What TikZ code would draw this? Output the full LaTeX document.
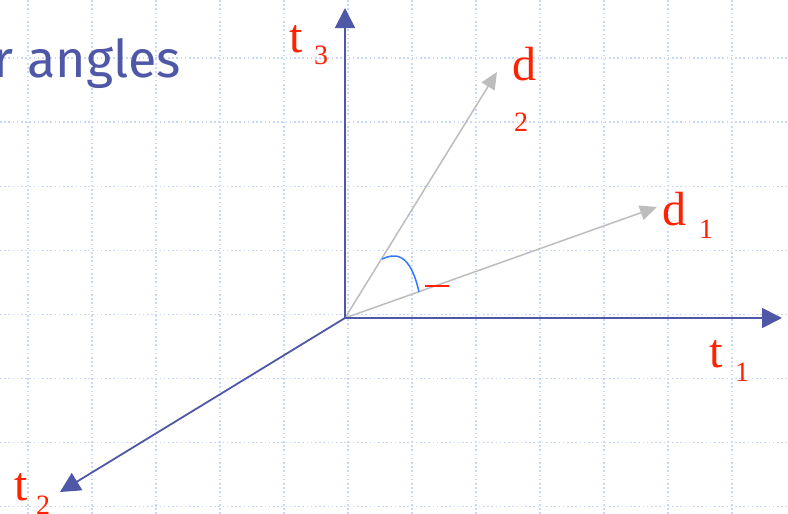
\documentclass[tikz,border=0pt]{standalone}
\usepackage{fontspec}
\setmainfont{Liberation Serif}
\newfontfamily\titlefont{Fira Sans}
\usetikzlibrary{arrows.meta}
\definecolor{axisblue}{HTML}{4F58A6}
\definecolor{gridblue}{HTML}{CAD7F6}
\definecolor{lblred}{HTML}{FF2200}
\definecolor{vecgray}{HTML}{BDBDBD}
\definecolor{arcblue}{HTML}{3377FF}
\tikzset{
  gridline/.style={gridblue, line width=1.3pt, dash pattern=on 1.6pt off 2.6pt},
  axis/.style={axisblue, line width=1.8pt, -{Triangle[length=20pt,width=20pt]}},
  vec/.style={vecgray, line width=1.5pt, -{Triangle[length=17pt,width=15pt]}},
  big/.style={text=lblred, inner sep=0pt, outer sep=0pt, anchor=base west, font=\fontsize{48}{48}\selectfont},
  sub/.style={text=lblred, inner sep=0pt, outer sep=0pt, anchor=base west, font=\fontsize{28}{28}\selectfont},
}
\begin{document}
\begin{tikzpicture}[x=1pt,y=-1pt]
\useasboundingbox (0,0) rectangle (788,514);
\clip (0,0) rectangle (788,514);
\fill[white] (0,0) rectangle (788,514);
\foreach \x in {28,92,...,796} \draw[gridline] (\x,0) -- (\x,514);
\foreach \i in {-1,...,7} \draw[gridline] (0,{58+64.1*\i}) -- (788,{58+64.1*\i});
\node[anchor=base east, inner sep=0pt, text=axisblue, font=\titlefont\fontsize{52}{52}\selectfont] (title) at (181,77) {r angles};
\coordinate (O) at (345,318);
\coordinate (T3) at (345,8);
\coordinate (T1) at (782,318);
\coordinate (T2) at (60,492);
\coordinate (D2) at (497,72);
\coordinate (D1) at (657,207);
\draw[vec] (O) -- (D2);
\draw[vec] (O) -- (D1);
\draw[axis] (O) -- (T3);
\draw[axis] (O) -- (T1);
\draw[axis] (O) -- (T2);
\draw[arcblue, line width=1.5pt] (382,259) .. controls (395,253) and (410,252) .. (419,292);
\draw[lblred, line width=1.5pt] (425,286) -- (449,286);
\node[big] (t3) at (289,52) {t};
\node[sub] (t3s) at (314,64) {3};
\node[big] (d2) at (512,80) {d};
\node[sub] (d2s) at (514,131) {2};
\node[big] (d1) at (662,225) {d};
\node[sub] (d1s) at (699,238) {1};
\node[big] (t1) at (709,367) {t};
\node[sub] (t1s) at (735,381) {1};
\node[big] (t2) at (14,500) {t};
\node[sub] (t2s) at (36,514) {2};
\end{tikzpicture}
\end{document}
